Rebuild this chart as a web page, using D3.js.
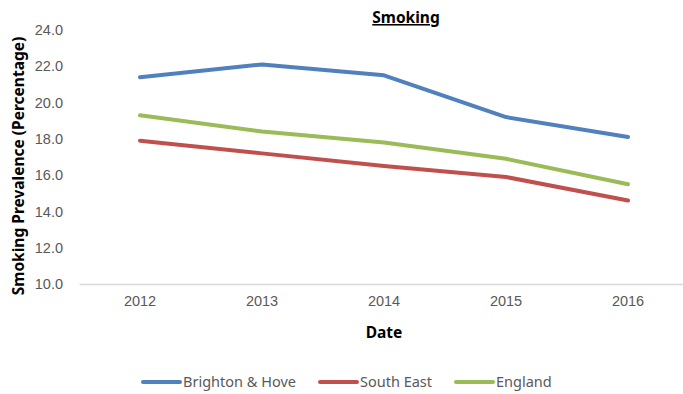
<!DOCTYPE html>
<html lang="en">
<head>
<meta charset="UTF-8">
<script src="https://d3js.org/d3.v7.min.js"></script>
<style>
body {margin: 0; background: white;}
svg {display: block; font-family: "Noto Sans", "Open Sans", sans-serif;}
.tick text {fill: #595959; font-size: 14.5px;}
</style>
</head>
<body>
<svg width="683" height="394"></svg>
<script>
var years = ["2012", "2013", "2014", "2015", "2016"];
var brighton = [21.4, 22.1, 21.5, 19.2, 18.1];
var southEast = [17.9, 17.2, 16.5, 15.9, 14.6];
var england = [19.3, 18.4, 17.8, 16.9, 15.5];
var yTicks = [10, 12, 14, 16, 18, 20, 22, 24];

var series = [
  {name: "Brighton & Hove", values: brighton, color: "#4f81bd"},
  {name: "South East", values: southEast, color: "#c0504d"},
  {name: "England", values: england, color: "#9bbb59"}
];

var svg = d3.select("svg");

var xs = d3.scaleBand().domain(years).range([79, 689]);
var ys = d3.scaleLinear().domain([10, 24]).range([284, 30]);

// y axis, no line
var yAxis = svg.append("g")
  .attr("transform", "translate(66,0)")
  .call(d3.axisLeft(ys).tickValues(yTicks).tickFormat(d3.format(".1f")).tickSize(0));
yAxis.select(".domain").remove();

// x axis
var xAxis = svg.append("g")
  .attr("transform", "translate(0,284)")
  .call(d3.axisBottom(xs).tickSize(0).tickPadding(12));
xAxis.select(".domain").attr("stroke", "#d9d9d9").attr("stroke-width", 1.5);

var line = d3.line()
  .x(function(d, i) { return xs(years[i]) + xs.bandwidth() / 2; })
  .y(function(d) { return ys(d); });

series.forEach(function(s) {
  svg.append("path")
    .datum(s.values)
    .attr("d", line)
    .attr("fill", "none")
    .attr("stroke", s.color)
    .attr("stroke-width", 4)
    .attr("stroke-linecap", "round")
    .attr("stroke-linejoin", "round");
});

svg.append("text")
  .attr("x", 406).attr("y", 23)
  .attr("text-anchor", "middle")
  .style("font-size", "15.5px").style("font-weight", "bold")
  .style("text-decoration", "underline")
  .text("Smoking");

svg.append("text")
  .attr("transform", "translate(24,166) rotate(-90)")
  .attr("text-anchor", "middle")
  .style("font-size", "15.5px").style("font-weight", "bold")
  .text("Smoking Prevalence (Percentage)");

svg.append("text")
  .attr("x", 384).attr("y", 338)
  .attr("text-anchor", "middle")
  .style("font-size", "15.5px").style("font-weight", "bold")
  .text("Date");

var legendX = [143, 320, 456];
series.forEach(function(s, i) {
  svg.append("line")
    .attr("x1", legendX[i]).attr("x2", legendX[i] + 37)
    .attr("y1", 382).attr("y2", 382)
    .attr("stroke", s.color).attr("stroke-width", 4)
    .attr("stroke-linecap", "round");
  svg.append("text")
    .attr("x", legendX[i] + 40).attr("y", 387)
    .style("font-size", "14.5px").attr("fill", "#595959")
    .text(s.name);
});
</script>
</body>
</html>
